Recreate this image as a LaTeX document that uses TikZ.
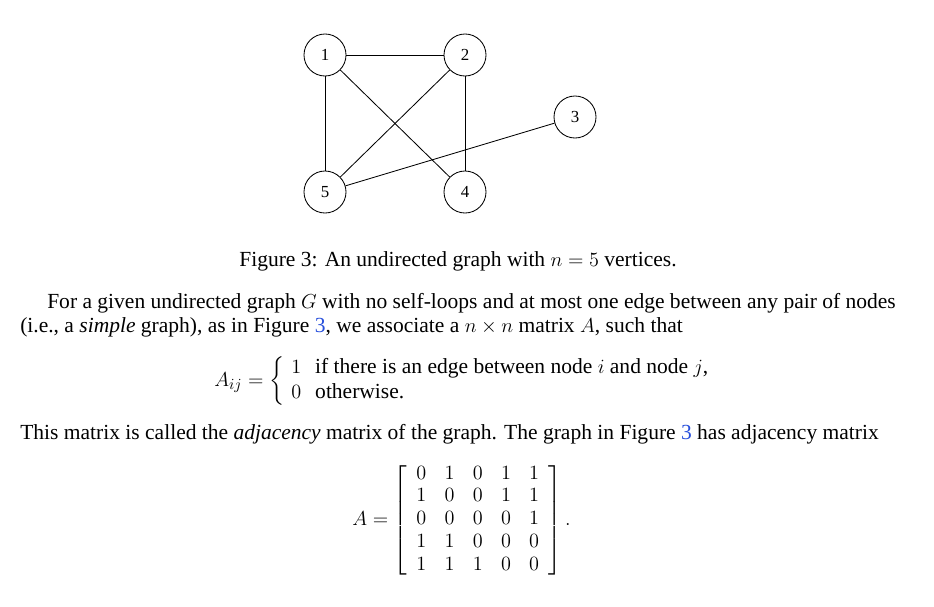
\documentclass[tikz,border=0pt]{standalone}
\usepackage{fontspec}
\usepackage{amsmath}
\setmainfont{Liberation Serif}
\definecolor{linkblue}{RGB}{40,80,220}
\tikzset{
  vertex/.style={circle,draw,semithick,minimum size=1.05cm,inner sep=0pt,font=\fontsize{12}{14}\selectfont},
  edge/.style={semithick},
  txt/.style={anchor=base west,inner sep=0pt,font=\fontsize{15.3}{18}\selectfont}
}
\begin{document}
\begin{tikzpicture}[x=0.025cm,y=-0.025cm]
\useasboundingbox (0,0) rectangle (934,606);

% graph
\node[vertex] (v1) at (325,55) {1};
\node[vertex] (v2) at (465,55) {2};
\node[vertex] (v3) at (575,117) {3};
\node[vertex] (v5) at (325,192) {5};
\node[vertex] (v4) at (465,192) {4};

\draw[edge] (v1) -- (v2);
\draw[edge] (v1) -- (v5);
\draw[edge] (v1) -- (v4);
\draw[edge] (v2) -- (v5);
\draw[edge] (v2) -- (v4);
\draw[edge] (v3) -- (v5);

% caption
\node[txt,anchor=base] (cap) at (458,266) {Figure 3: An undirected graph with $n=5$ vertices.};

% text
\node[txt] (p1) at (47,308) {For a given undirected graph $G$ with no self-loops and at most one edge between any pair of nodes};
\node[txt] (p2) at (20,332) {(i.e., a \emph{simple} graph), as in Figure \textcolor{linkblue}{3}, we associate a $n\times n$ matrix $A$, such that};
\node[txt,anchor=west] (eq) at (214,381) {$A_{ij}=\left\{\begin{array}{ll}1 & \text{if there is an edge between node $i$ and node $j$,}\\ 0 & \text{otherwise.}\end{array}\right.$};
\node[txt] (p3) at (20,439) {This matrix is called the \emph{adjacency} matrix of the graph. The graph in Figure \textcolor{linkblue}{3} has adjacency matrix};
\node[txt,anchor=west] (mat) at (352,520) {\renewcommand{\arraystretch}{0.9}\setlength{\arraycolsep}{6.5pt}$A=\left[\begin{array}{ccccc}0&1&0&1&1\\1&0&0&1&1\\0&0&0&0&1\\1&1&0&0&0\\1&1&1&0&0\end{array}\right].$};

\end{tikzpicture}
\end{document}
